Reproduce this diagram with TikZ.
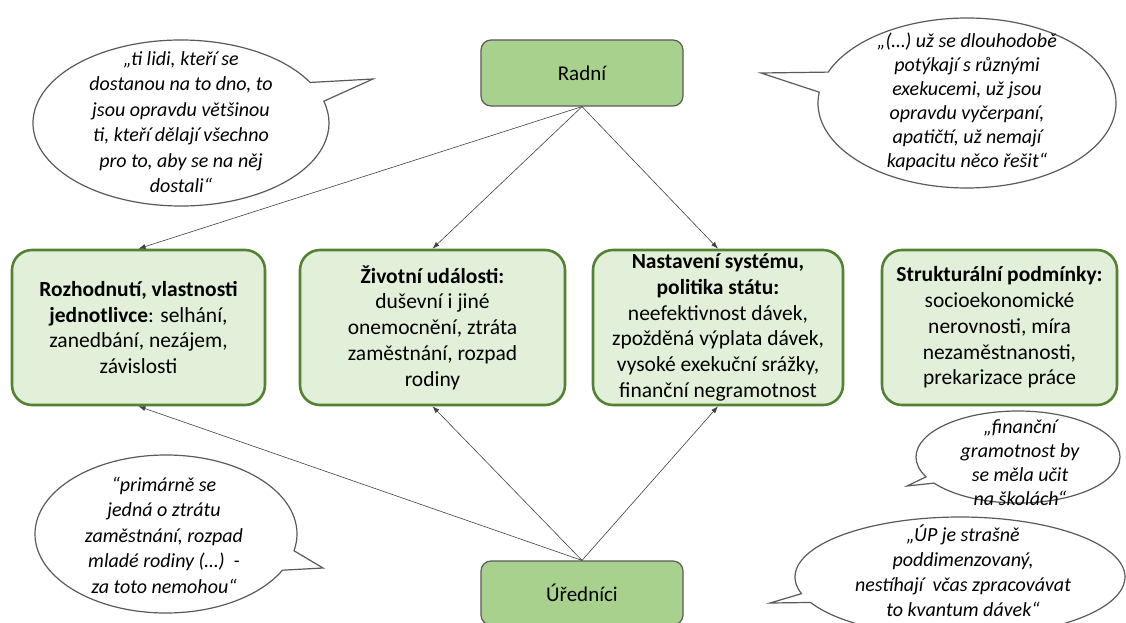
\documentclass[tikz,border=0pt]{standalone}
\usepackage{fontspec}
\setmainfont{Carlito}
\usetikzlibrary{arrows.meta,shapes.callouts}
\definecolor{boxfill}{HTML}{E2F0D9}
\definecolor{boxline}{HTML}{548235}
\definecolor{actfill}{HTML}{A9D18E}
\definecolor{grayline}{HTML}{5A5A5A}
\definecolor{arrowc}{HTML}{404040}
\begin{document}
\begin{tikzpicture}[x=1pt,y=-1pt,
  cat/.style={draw=boxline, line width=2.6pt, fill=boxfill, rounded corners=20pt, minimum height=155pt, inner sep=0pt, align=center, font=\fontsize{21.5}{25.8}\selectfont},
  actor/.style={draw=grayline, line width=1.2pt, fill=actfill, rounded corners=10pt, minimum width=202pt, inner sep=0pt, font=\fontsize{21}{24}\selectfont},
  bubble/.style={ellipse callout, draw=grayline, line width=1.2pt, fill=white, inner sep=0pt},
  quote/.style={align=center, inner sep=0pt, font=\fontsize{20}{25.5}\selectfont\itshape},
  quotetight/.style={quote, font=\fontsize{20}{24}\selectfont\itshape},
  link/.style={draw=arrowc, line width=0.6pt, -{Latex[length=7pt,width=5pt]}}
]
\useasboundingbox (0,0) rectangle (1126,623);
\fill[white] (0,0) rectangle (1126,623);

% actors
\node[actor, minimum height=66pt] (radni) at (582,73) {Radní};
\node[actor, minimum height=64pt] (uredn) at (582,593) {Úředníci};

% category boxes
\node[cat, minimum width=253pt] (b1) at (138.5,327.5) {\textbf{Rozhodnutí, vlastnosti}\\\textbf{jednotlivce}: selhání,\\zanedbání, nezájem,\\závislosti};
\node[cat, minimum width=265pt] (b2) at (432.5,327.5) {\textbf{Životní události:}\\duševní i jiné\\onemocnění, ztráta\\zaměstnání, rozpad\\rodiny};
\node[cat, minimum width=250pt] (b3) at (718,327.5) {\textbf{Nastavení systému,}\\\textbf{politika státu:}\\neefektivnost dávek,\\zpožděná výplata dávek,\\vysoké exekuční srážky,\\finanční negramotnost};
\node[cat, minimum width=235pt] (b4) at (999.5,327.5) {\textbf{Strukturální podmínky:}\\socioekonomické\\nerovnosti, míra\\nezaměstnanosti,\\prekarizace práce};

% arrows
\draw[link] (radni.south) -- (b1.north);
\draw[link] (radni.south) -- (b2.north);
\draw[link] (radni.south) -- (b3.north);
\draw[link] (uredn.north) -- (b1.south);
\draw[link] (uredn.north) -- (b2.south);
\draw[link] (uredn.north) -- (b3.south);

% callout pointer tips
\coordinate (p1) at (373,79);
\coordinate (p2) at (761,73);
\coordinate (p3) at (323,568);
\coordinate (p4) at (907,486);
\coordinate (p5) at (770,603);

% callouts
\node[bubble, minimum width=296pt, minimum height=166pt, callout absolute pointer=(p1), callout pointer arc=14] (q1) at (181,123) {};
\node[quote] (q1t) at (181,122) {„ti lidi, kteří se\\dostanou na to dno, to\\jsou opravdu většinou\\ti, kteří dělají všechno\\pro to, aby se na něj\\dostali“};

\node[bubble, minimum width=298pt, minimum height=170pt, callout absolute pointer=(p2), callout pointer arc=14] (q2) at (967,103) {};
\node[quotetight] (q2t) at (967,102) {„(…) už se dlouhodobě\\potýkají s různými\\exekucemi, už jsou\\opravdu vyčerpaní,\\apatičtí, už nemají\\kapacitu něco řešit“};

\node[bubble, minimum width=262pt, minimum height=158pt, callout absolute pointer=(p3), callout pointer arc=15] (q3) at (166,534) {};
\node[quote] (q3t) at (164,535) {“primárně se\\jedná o ztrátu\\zaměstnání, rozpad\\mladé rodiny (…) ~-\\za toto nemohou“};

\node[bubble, minimum width=204pt, minimum height=92pt, callout absolute pointer=(p4), callout pointer arc=9] (q4) at (1018,457) {};
\node[quotetight] (q4t) at (1020,463) {„finanční\\gramotnost by\\se měla učit\\na školách“};

\node[bubble, minimum width=330pt, minimum height=120pt, callout absolute pointer=(p5), callout pointer arc=9] (q5) at (960,577) {};
\node[quote, font=\fontsize{20}{25}\selectfont\itshape] (q5t) at (963,571) {„ÚP je strašně\\poddimenzovaný,\\nestíhají~ včas zpracovávat\\to kvantum dávek“};
\end{tikzpicture}
\end{document}
